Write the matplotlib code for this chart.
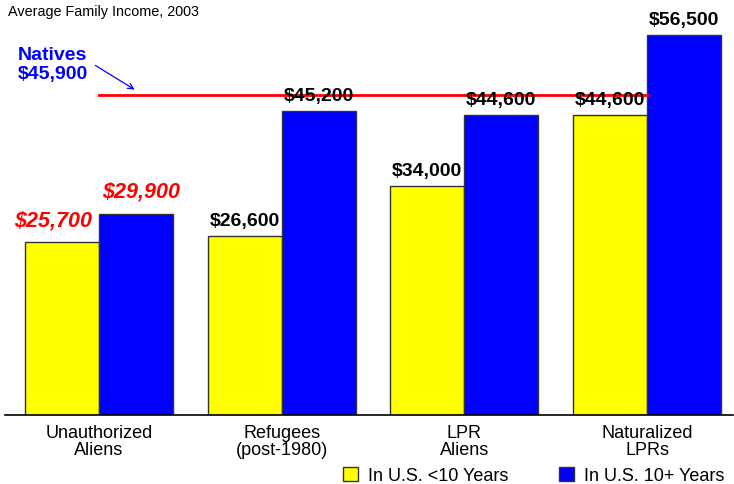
import numpy as np
import matplotlib
matplotlib.use("Agg")
from matplotlib import pyplot as plt

plt.rcParams['font.family'] = ['Liberation Sans', 'DejaVu Sans']

categories = ["Unauthorized\nAliens", "Refugees\n(post-1980)", "LPR\nAliens", "Naturalized\nLPRs"]
under10 = [25700, 26600, 34000, 44600]
over10 = [29900, 45200, 44600, 56500]
under10_labels = ["$25,700", "$26,600", "$34,000", "$44,600"]
over10_labels = ["$29,900", "$45,200", "$44,600", "$56,500"]
natives_label = "Natives\n$45,900"
natives_line = 47600  # where the reference draws the line

fig = plt.figure(figsize=(7.34, 4.84), dpi=100)
W, H = 734, 484
ax = fig.add_axes([5 / W, 69 / H, 728 / W, 395 / H])

x = np.arange(len(categories))
w = 0.405
yel = ax.bar(x - w / 2, under10, w, color='#ffff00', edgecolor='#333333', linewidth=1, zorder=2)
blu = ax.bar(x + w / 2, over10, w, color='#0000ff', edgecolor='#333333', linewidth=1, zorder=2)

ax.set_xlim(-0.514, 3.47)
ax.set_ylim(0, 395 / 6.726 * 1000)

# natives reference line
ax.plot([0, 3], [natives_line, natives_line], color='#ff0000', lw=2, zorder=3)

for i in range(len(categories)):
    if i == 0:
        ax.annotate(under10_labels[i], (x[i] - w / 2 - 0.05, under10[i]), xytext=(0, 7.5),
                    textcoords='offset points', ha='center', va='bottom', color='#ff0000',
                    fontsize=15.5, fontweight='bold', style='italic', zorder=4)
        ax.annotate(over10_labels[i], (x[i] + w / 2 + 0.03, over10[i]), xytext=(0, 8.5),
                    textcoords='offset points', ha='center', va='bottom', color='#ff0000',
                    fontsize=15.5, fontweight='bold', style='italic', zorder=4)
    else:
        ax.annotate(under10_labels[i], (x[i] - w / 2, under10[i]), xytext=(0, 4.5),
                    textcoords='offset points', ha='center', va='bottom', color='black',
                    fontsize=14, fontweight='bold', zorder=4)
        ax.annotate(over10_labels[i], (x[i] + w / 2, over10[i]), xytext=(0, 4.5),
                    textcoords='offset points', ha='center', va='bottom', color='black',
                    fontsize=14, fontweight='bold', zorder=4)

# natives callout
fig.text(18 / W, 1 - 65 / H, natives_label, color='#0000ff', fontsize=14,
         fontweight='bold', ha='left', va='center', linespacing=1.2)
ax.annotate('', xy=(137 / W, 1 - 91 / H), xytext=(93 / W, 1 - 64 / H),
            xycoords='figure fraction', textcoords='figure fraction',
            arrowprops=dict(arrowstyle='->', color='#0000ff', lw=0.9))

fig.text(8 / W, 1 - 12 / H, "Average Family Income, 2003", fontsize=10.4, ha='left', va='center')

ax.set_xticks(x)
ax.set_xticklabels(categories, fontsize=13, linespacing=1.05)
ax.tick_params(axis='x', length=0, pad=7)
ax.set_yticks([])
for s in ['top', 'right', 'left']:
    ax.spines[s].set_visible(False)
ax.spines['bottom'].set_linewidth(1.2)

fig.legend([yel, blu], ["In U.S. <10 Years", "In U.S. 10+ Years"], loc='center left',
           bbox_to_anchor=(343 / W, 1 - 476 / H), ncol=2, frameon=False, fontsize=13,
           handlelength=0.83, handleheight=0.83, columnspacing=2.8, handletextpad=0.55,
           borderpad=0, borderaxespad=0)

fig.savefig("out.png", dpi=100)
